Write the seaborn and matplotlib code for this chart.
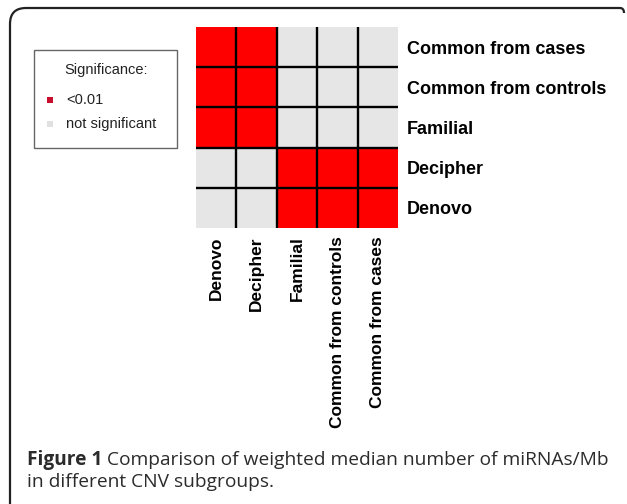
import numpy as np
import pandas as pd
import matplotlib
matplotlib.use("Agg")
import matplotlib.pyplot as plt
import seaborn as sns
from matplotlib.colors import ListedColormap
from matplotlib.patches import Rectangle, PathPatch
from matplotlib.path import Path

sns.set_style("white")
plt.rcParams['font.family'] = ['Liberation Sans', 'DejaVu Sans']

# --- data ---
row_labels = ['Common from cases', 'Common from controls', 'Familial', 'Decipher', 'Denovo']
col_labels = ['Denovo', 'Decipher', 'Familial', 'Common from controls', 'Common from cases']
# 1 = p < 0.01, 0 = not significant
sig_cases = [1, 1, 0, 0, 0]
sig_controls = [1, 1, 0, 0, 0]
sig_familial = [1, 1, 0, 0, 0]
sig_decipher = [0, 0, 1, 1, 1]
sig_denovo = [0, 0, 1, 1, 1]
legend_labels = ['<0.01', 'not significant']

RED = '#ff0000'
GREY = '#e6e6e6'

W, H = 627, 504
fig = plt.figure(figsize=(W / 100, H / 100), dpi=100)

def fx(px):
    return px / W

def fy(py):
    return 1 - py / H

# --- heatmap ---
mat = pd.DataFrame([sig_cases, sig_controls, sig_familial, sig_decipher, sig_denovo],
                   index=row_labels, columns=col_labels)
ax = fig.add_axes([fx(196), fy(228), fx(398) - fx(196), fy(27) - fy(228)])
sns.heatmap(mat, cmap=ListedColormap([GREY, RED]), vmin=0, vmax=1, cbar=False, ax=ax)
for k in range(1, 5):
    ax.axhline(k, color='black', lw=1.7)
    ax.axvline(k, color='black', lw=1.7)

ax.tick_params(axis='y', length=0, pad=6.5, labelright=True, labelleft=False, labelcolor='black')
ax.tick_params(axis='x', length=0, pad=6, labelcolor='black')
ax.set_yticklabels(row_labels, rotation=0, ha='left', fontsize=13, fontweight='bold')
ax.set_xticklabels(col_labels, rotation=90, fontsize=12.5, fontweight='bold')
ax.set_xlabel('')
ax.set_ylabel('')

# --- legend box ---
fig.patches.append(Rectangle((fx(34), fy(148)), fx(177) - fx(34), fy(50) - fy(148),
                             transform=fig.transFigure, fill=False, edgecolor='#666666', lw=1))
fig.text(fx(106), fy(70), 'Significance:', ha='center', va='center', fontsize=10.5, color='#222222')
for lab, col, yy in zip(legend_labels, ['#c8102e', '#e0e0e0'], [100, 124]):
    fig.patches.append(Rectangle((fx(47), fy(yy + 3)), fx(6), 6 / H,
                                 transform=fig.transFigure, facecolor=col, edgecolor='none'))
    fig.text(fx(66), fy(yy), lab, ha='left', va='center', fontsize=10.5, color='#222222')

# --- outer frame (rounded top-left corner, open bottom) ---
r = 16
verts = [(fx(10), fy(504)), (fx(10), fy(8 + r)), (fx(10), fy(8)), (fx(10 + r), fy(8)),
         (fx(620), fy(8)), (fx(624), fy(8)), (fx(624), fy(13))]
codes = [Path.MOVETO, Path.LINETO, Path.CURVE3, Path.CURVE3, Path.LINETO, Path.CURVE3, Path.CURVE3]
fig.patches.append(PathPatch(Path(verts, codes), transform=fig.transFigure,
                             fill=False, edgecolor='#222222', lw=1.6))

# --- caption ---
cap_font = ['Open Sans', 'DejaVu Sans']
cap_col = '#2b2b2b'
cap_size = 13.8
t1 = fig.text(fx(27), fy(460), 'Figure 1', ha='left', va='center', fontsize=cap_size,
              fontweight='bold', family=cap_font, color=cap_col)
fig.canvas.draw()
bb = t1.get_window_extent(fig.canvas.get_renderer())
fig.text(bb.x1 / W + fx(5), fy(460),
         'Comparison of weighted median number of miRNAs/Mb', ha='left', va='center',
         fontsize=cap_size, family=cap_font, color=cap_col)
fig.text(fx(27), fy(482), 'in different CNV subgroups.', ha='left', va='center',
         fontsize=cap_size, family=cap_font, color=cap_col)

fig.savefig('out.png', dpi=100)
